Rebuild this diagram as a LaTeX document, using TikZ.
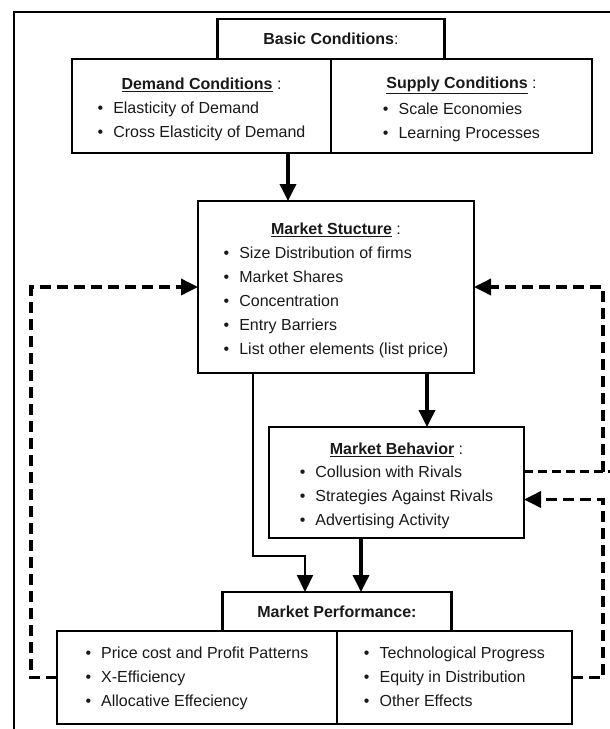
\documentclass[tikz,border=0pt]{standalone}
\usepackage{fontspec}
\setmainfont{Liberation Sans}
\usetikzlibrary{arrows.meta,positioning}

\newcommand{\hd}[1]{\rule{0pt}{22pt}\underline{\textbf{#1}} :\\[3.5pt]}
\newcommand{\itm}[1]{\textbullet\hspace{10pt}#1}

\tikzset{
  box/.style={draw,line width=2.2pt,outer sep=0pt,inner sep=0pt,align=center,
    font=\fontsize{16}{24}\selectfont,text=black!90},
  tip/.style={-{Triangle[length=17pt,width=16pt]}},
  arr/.style={tip,line width=3.6pt},
  thinarr/.style={tip,line width=2.2pt},
  feed/.style={line width=3.6pt,dash pattern=on 11pt off 6pt},
  feedthin/.style={line width=2.2pt,dash pattern=on 9pt off 5pt}
}

\begin{document}
\begin{tikzpicture}[x=1pt,y=-1pt]
\useasboundingbox (0,0) rectangle (610,729);
\draw[line width=2.2pt] (14,729) -- (14,12) -- (615,12);

% top row
\node[box,minimum width=259pt,minimum height=94pt,anchor=north west] (demand) at (72,59)
  {\hd{Demand Conditions}
   \begin{tabular}{@{}l@{}}\itm{Elasticity of Demand}\\ \itm{Cross Elasticity of Demand}\end{tabular}};
\node[box,minimum width=261pt,minimum height=94pt,anchor=north west] (supply) at (demand.north east)
  {\hd{Supply Conditions}
   \begin{tabular}{@{}l@{}}\itm{Scale Economies}\\ \itm{Learning Processes}\end{tabular}};
\node[box,minimum width=227pt,minimum height=40pt,anchor=south] (basic) at (demand.north east)
  {\textbf{Basic Conditions}:};

% middle
\node[box,minimum width=276pt,minimum height=172pt,anchor=north west] (struct) at (198,201)
  {\hd{Market Stucture}
   \begin{tabular}{@{}l@{}}\itm{Size Distribution of firms}\\ \itm{Market Shares}\\
   \itm{Concentration}\\ \itm{Entry Barriers}\\ \itm{List other elements (list price)}\end{tabular}};
\node[box,minimum width=255pt,minimum height=111pt,anchor=north west] (behav) at (269,427)
  {\hd{Market Behavior}
   \begin{tabular}{@{}l@{}}\itm{Collusion with Rivals}\\ \itm{Strategies Against Rivals}\\
   \itm{Advertising Activity}\end{tabular}};

% bottom
\node[box,minimum width=280pt,minimum height=93pt,anchor=north west] (perfL) at (57,631)
  {\rule{0pt}{18pt}\begin{tabular}{@{}l@{}}\itm{Price cost and Profit Patterns}\\ \itm{X-Efficiency}\\
   \itm{Allocative Effeciency}\end{tabular}};
\node[box,minimum width=235pt,minimum height=93pt,anchor=north west] (perfR) at (perfL.north east)
  {\rule{0pt}{18pt}\begin{tabular}{@{}l@{}}\itm{Technological Progress}\\ \itm{Equity in Distribution}\\
   \itm{Other Effects}\end{tabular}};
\node[box,minimum width=229pt,minimum height=39pt,anchor=south] (perfhead) at (perfL.north east)
  {\textbf{Market Performance:}};

\coordinate (xa) at (288,0);
\coordinate (xb) at (427,0);
\coordinate (xc) at (253,0);
\coordinate (xd) at (305,0);
\coordinate (xe) at (361,0);
\coordinate (xl) at (31,0);
\coordinate (xr) at (603,0);
\coordinate (bout) at ([yshift=11pt]behav.east);
\coordinate (bin) at ([yshift=-17pt]behav.east);

\draw[arr] (demand.south -| xa) -- (struct.north -| xa);
\draw[arr] (struct.south -| xb) -- (behav.north -| xb);
\draw[thinarr] (struct.south -| xc) -- ++(0,183) -| (perfhead.north -| xd);
\draw[arr] (behav.south -| xe) -- (perfhead.north -| xe);

% feedback
\draw[feed,tip] (perfL.west) -| (xl |- struct.west) -- (struct.west);
\draw[feedthin] (bout) -- ++(90,0);
\draw[feed,tip] (xr |- bout) -- (xr |- struct.east) -- (struct.east);
\draw[feed,tip] (perfR.east) -| (xr |- bin) -- (bin);
\end{tikzpicture}
\end{document}
